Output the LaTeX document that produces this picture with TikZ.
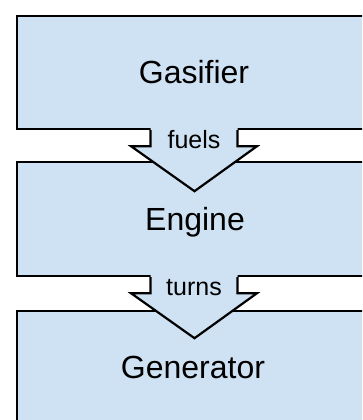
\documentclass[tikz,border=0pt]{standalone}
\usepackage{fontspec}
\setmainfont{Liberation Sans}
\usetikzlibrary{calc}
\definecolor{boxfill}{HTML}{CFE2F3}
\tikzset{
  stagebox/.style={draw=black, fill=boxfill, line width=2.4pt, minimum width=354pt, inner sep=0pt},
  arrowfill/.style={fill=boxfill},
  arrowline/.style={draw=black, line width=2.2pt, line join=miter},
  bigtext/.style={font=\fontsize{32}{36}\selectfont, anchor=base, inner sep=0pt},
  smalltext/.style={font=\fontsize{25}{28}\selectfont, anchor=base, inner sep=0pt}
}
\begin{document}
\begin{tikzpicture}[x=1pt,y=-1pt]
\useasboundingbox (0,0) rectangle (362,420);
\clip (0,0) rectangle (362,420);
\fill[white] (0,0) rectangle (362,420);
% boxes
\node[stagebox, minimum height=113pt] (gas) at (194,72.5) {};
\node[stagebox, minimum height=114pt] (eng) at (194,219) {};
\node[stagebox, minimum height=113pt] (gen) at (194,367.5) {};
% block arrows
\foreach \b in {gas,eng}{
  \fill[arrowfill] ($(\b.south)+(-43.5,-3)$) -- ($(\b.south)+(-43.5,16)$) -- ($(\b.south)+(-63,16)$) -- ($(\b.south)+(0.5,61)$) -- ($(\b.south)+(63,16)$) -- ($(\b.south)+(43.5,16)$) -- ($(\b.south)+(43.5,-3)$) -- cycle;
  \draw[arrowline] ($(\b.south)+(-43.5,0)$) -- ($(\b.south)+(-43.5,16)$) -- ($(\b.south)+(-63,16)$) -- ($(\b.south)+(0.5,61)$) -- ($(\b.south)+(63,16)$) -- ($(\b.south)+(43.5,16)$) -- ($(\b.south)+(43.5,0)$);
}
% texts
\node[bigtext] (tgas) at (194,83) {Gasifier};
\node[bigtext] (teng) at (195,230) {Engine};
\node[bigtext] (tgen) at (193,378) {Generator};
\node[smalltext] (lfuels) at (194,148) {fuels};
\node[smalltext] (lturns) at (194,295) {turns};
\end{tikzpicture}
\end{document}
